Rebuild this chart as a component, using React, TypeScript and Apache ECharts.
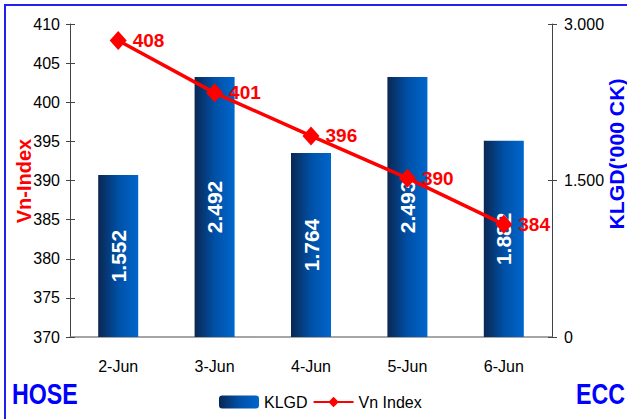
import React, { useEffect, useRef } from "react";
import * as echarts from "echarts";

const categories = ["2-Jun", "3-Jun", "4-Jun", "5-Jun", "6-Jun"];
const klgdValues = [1552, 2492, 1764, 2493, 1882];
const vnIndexValues = [407.9, 401.2, 395.7, 390.3, 384.4];
const leftAxisRange = [370, 410];
const leftAxisStep = 5;
const rightAxisRange = [0, 3000];
const rightAxisStep = 1500;
const seriesNames = ["KLGD", "Vn Index"];
const leftTitle = "Vn-Index";
const rightTitle = "KLGD('000 CK)";
const leftCorner = "HOSE";
const rightCorner = "ECC";

const fmtThousands = (n: number) =>
  n >= 1000 ? `${Math.floor(n / 1000)}.${String(Math.round(n % 1000)).padStart(3, "0")}` : String(n);

const SANS = "'Liberation Sans', Arial, sans-serif";

export default function App() {
  const ref = useRef<HTMLDivElement>(null);
  useEffect(() => {
    if (!ref.current) return;
    const chart = echarts.init(ref.current, undefined, { renderer: "svg" });
    const barGradient = new echarts.graphic.LinearGradient(0, 0, 1, 0, [
      { offset: 0, color: "#0a2752" },
      { offset: 0.5, color: "#0050a6" },
      { offset: 1, color: "#0066cc" },
    ]);
    const axisLineDark = { show: true, lineStyle: { color: "#444", width: 1 } };
    chart.setOption({
      animation: false,
      backgroundColor: "#fff",
      textStyle: { fontFamily: SANS },
      grid: { left: 70, right: 75, top: 24, bottom: 82, containLabel: false },
      legend: {
        left: 219,
        top: 394,
        padding: 0,
        itemGap: 5,
        itemWidth: 40,
        itemHeight: 13,
        textStyle: { fontSize: 16, color: "#000", fontFamily: SANS },
        data: [
          { name: seriesNames[0] },
          { name: seriesNames[1], itemStyle: { color: "#ff0000" } },
        ],
      },
      xAxis: {
        type: "category",
        data: categories,
        axisLine: { show: true, lineStyle: { color: "#888", width: 1.5 } },
        axisTick: { show: false },
        axisLabel: { fontSize: 16, color: "#000", margin: 21, fontFamily: SANS },
      },
      yAxis: [
        {
          type: "value",
          position: "left",
          min: leftAxisRange[0],
          max: leftAxisRange[1],
          interval: leftAxisStep,
          axisLine: axisLineDark,
          axisTick: { show: true, length: 4, lineStyle: { color: "#444" } },
          axisLabel: { fontSize: 16, color: "#000", margin: 10, fontFamily: SANS },
          splitLine: { show: false },
        },
        {
          type: "value",
          position: "right",
          min: rightAxisRange[0],
          max: rightAxisRange[1],
          interval: rightAxisStep,
          axisLine: axisLineDark,
          axisTick: { show: true, length: 5, lineStyle: { color: "#444" } },
          axisLabel: {
            fontSize: 16,
            color: "#000",
            margin: 12,
            fontFamily: SANS,
            formatter: (v: number) => fmtThousands(v),
          },
          splitLine: { show: false },
        },
        {
          type: "value",
          position: "left",
          min: leftAxisRange[0],
          max: leftAxisRange[1],
          interval: leftAxisStep,
          axisLine: { show: false },
          axisTick: { show: true, inside: true, length: 5, lineStyle: { color: "#444" } },
          axisLabel: { show: false },
          splitLine: { show: false },
        },
        {
          type: "value",
          position: "right",
          min: rightAxisRange[0],
          max: rightAxisRange[1],
          interval: rightAxisStep,
          axisLine: { show: false },
          axisTick: { show: true, inside: true, length: 4, lineStyle: { color: "#444" } },
          axisLabel: { show: false },
          splitLine: { show: false },
        },
      ],
      series: [
        {
          name: seriesNames[0],
          type: "bar",
          yAxisIndex: 1,
          barWidth: 40,
          data: klgdValues,
          itemStyle: { color: barGradient },
          z: 2,
          label: {
            show: true,
            position: "inside",
            rotate: 90,
            color: "#fff",
            fontSize: 21,
            fontWeight: "bold",
            fontFamily: SANS,
            formatter: (p: any) => fmtThousands(p.value),
          },
        },
        {
          name: seriesNames[1],
          type: "line",
          yAxisIndex: 0,
          data: vnIndexValues,
          symbol: "diamond",
          symbolSize: [17, 19],
          z: 5,
          lineStyle: { color: "#ff0000", width: 3.5 },
          itemStyle: { color: "#ff0000" },
          label: {
            show: true,
            position: "right",
            distance: 6,
            color: "#ff0000",
            fontSize: 19,
            fontWeight: "bold",
            fontFamily: SANS,
            formatter: (p: any) => String(Math.round(p.value)),
          },
        },
      ],
      graphic: [
        {
          type: "rect",
          shape: { x: 5, y: 5, width: 700, height: 500 },
          style: { fill: "none", stroke: "#2020f0", lineWidth: 2 },
          silent: true,
        },
        {
          type: "text",
          x: 24,
          y: 181,
          rotation: Math.PI / 2,
          style: {
            text: leftTitle,
            fill: "#ff0000",
            fontSize: 20,
            fontWeight: "bold",
            fontFamily: SANS,
            align: "center",
            verticalAlign: "middle",
          },
        },
        {
          type: "text",
          x: 617,
          y: 154,
          rotation: Math.PI / 2,
          scaleX: 1.06,
          style: {
            text: rightTitle,
            fill: "#0000ff",
            fontSize: 20,
            fontWeight: "bold",
            fontFamily: SANS,
            align: "center",
            verticalAlign: "middle",
          },
        },
        {
          type: "text",
          x: 12,
          y: 394,
          scaleX: 0.8,
          style: {
            text: leftCorner,
            fill: "#0000ff",
            fontSize: 29,
            fontWeight: "bold",
            fontFamily: SANS,
            align: "left",
            verticalAlign: "middle",
          },
        },
        {
          type: "text",
          x: 576,
          y: 394,
          scaleX: 0.8,
          style: {
            text: rightCorner,
            fill: "#0000ff",
            fontSize: 29,
            fontWeight: "bold",
            fontFamily: SANS,
            align: "left",
            verticalAlign: "middle",
          },
        },
      ],
    });
    return () => chart.dispose();
  }, []);
  return (
    <div
      ref={ref}
      style={{ position: "fixed", left: 0, top: 0, width: 627, height: 419, background: "#fff" }}
    />
  );
}
